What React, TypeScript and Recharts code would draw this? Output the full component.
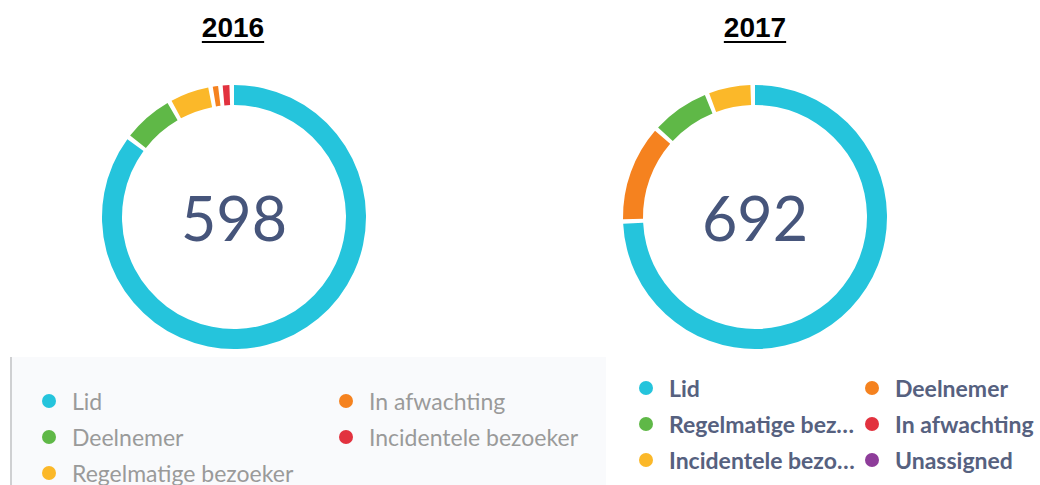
import { PieChart, Pie, Cell, Label, Legend } from "recharts";

const names2016 = ["Lid", "Deelnemer", "Regelmatige bezoeker", "In afwachting", "Incidentele bezoeker"];
const values2016 = [523, 37, 29, 4, 5];
const colors2016 = ["#25c4dc", "#5fb847", "#fbb829", "#f5821f", "#e2323f"];

const names2017 = ["Lid", "Deelnemer", "Regelmatige bezoeker", "In afwachting", "Incidentele bezoeker", "Unassigned"];
const values2017 = [525, 82, 49, 0, 36, 0];
const colors2017 = ["#25c4dc", "#f5821f", "#5fb847", "#e2323f", "#fbb829", "#8e3d9a"];

const W = 520;
const H = 485;
const CY = 217;
const R_IN = 112;
const R_OUT = 132;

type LegendBoxProps = {
  names: string[];
  colors: string[];
  flow: "row" | "column";
  colWidths: number[];
  textWidth?: number;
  textStyle: React.CSSProperties;
};

// legenda in twee kolommen, zoals in het dashboard
function LegendBox({ names, colors, flow, colWidths, textWidth, textStyle }: LegendBoxProps) {
  return (
    <div
      style={{
        display: "grid",
        gridAutoFlow: flow,
        gridTemplateRows: "repeat(3, 36px)",
        gridTemplateColumns: colWidths.map((w) => `${w}px`).join(" "),
      }}
    >
      {names.map((n, i) => (
        <div key={n} style={{ display: "flex", alignItems: "center", height: 36 }}>
          <span
            style={{
              width: 14,
              height: 14,
              borderRadius: 7,
              background: colors[i],
              flex: "none",
            }}
          />
          <span
            style={{
              marginLeft: 16,
              whiteSpace: "nowrap",
              overflow: textWidth ? "hidden" : "visible",
              textOverflow: "ellipsis",
              width: textWidth,
              ...textStyle,
            }}
          >
            {n}
          </span>
        </div>
      ))}
    </div>
  );
}

function Donut({
  names,
  values,
  colors,
  cx,
  legend,
  legendStyle,
}: {
  names: string[];
  values: number[];
  colors: string[];
  cx: number;
  legend: React.ReactNode;
  legendStyle: React.CSSProperties;
}) {
  const data = names.map((name, i) => ({ name, value: values[i] }));
  const total = values.reduce((a, b) => a + b, 0);
  return (
    <PieChart width={W} height={H} margin={{ top: 0, right: 0, bottom: 0, left: 0 }}>
      <Pie
        data={data}
        dataKey="value"
        nameKey="name"
        cx={cx}
        cy={CY}
        innerRadius={R_IN}
        outerRadius={R_OUT}
        startAngle={90}
        endAngle={-270}
        paddingAngle={2}
        stroke="none"
        isAnimationActive={false}
      >
        {data.map((d, i) => (
          <Cell key={d.name} fill={colors[i]} />
        ))}
        <Label
          value={String(total)}
          position="center"
          viewBox={{ x: cx - R_OUT, y: CY - R_OUT + 2, width: R_OUT * 2, height: R_OUT * 2 }}
          style={{ fontFamily: "Lato", fontSize: 61, fill: "#46557b" }}
        />
      </Pie>
      <Legend
        verticalAlign="bottom"
        wrapperStyle={legendStyle}
        content={() => legend}
      />
    </PieChart>
  );
}

const titleStyle: React.CSSProperties = {
  position: "absolute",
  top: 12,
  width: 120,
  textAlign: "center",
  fontFamily: "'Liberation Sans', Arial, sans-serif",
  fontWeight: 700,
  fontSize: 28,
  color: "#000",
  textDecoration: "underline",
  textDecorationThickness: 2,
  textUnderlineOffset: 4,
};

export default function App() {
  return (
    <div style={{ position: "absolute", left: 0, top: 0, width: 1040, height: 485, background: "#fff", overflow: "hidden" }}>
      <div style={{ ...titleStyle, left: 233 - 60 }}>2016</div>
      <div style={{ ...titleStyle, left: 755 - 60 }}>2017</div>
      <div style={{ position: "absolute", left: 0, top: 0 }}>
        <Donut
          names={names2016}
          values={values2016}
          colors={colors2016}
          cx={234}
          legendStyle={{
            left: 10,
            top: 357,
            width: 596,
            height: 128,
            boxSizing: "border-box",
            background: "#f9fafc",
            borderLeft: "2px solid #cfd0d2",
            paddingLeft: 30,
            paddingTop: 26,
          }}
          legend={
            <LegendBox
              names={names2016}
              colors={colors2016}
              flow="column"
              colWidths={[297, 260]}
              textStyle={{ fontFamily: "Lato", fontSize: 23, color: "#9a9a9a" }}
            />
          }
        />
      </div>
      <div style={{ position: "absolute", left: W, top: 0 }}>
        <Donut
          names={names2017}
          values={values2017}
          colors={colors2017}
          cx={235}
          legendStyle={{
            left: 99,
            top: 370,
            width: 421,
            height: 110,
            boxSizing: "border-box",
            paddingLeft: 20,
          }}
          legend={
            <LegendBox
              names={names2017}
              colors={colors2017}
              flow="row"
              colWidths={[226, 170]}
              textWidth={194}
              textStyle={{ fontFamily: "Lato", fontWeight: 700, fontSize: 23, color: "#56617f" }}
            />
          }
        />
      </div>
    </div>
  );
}
